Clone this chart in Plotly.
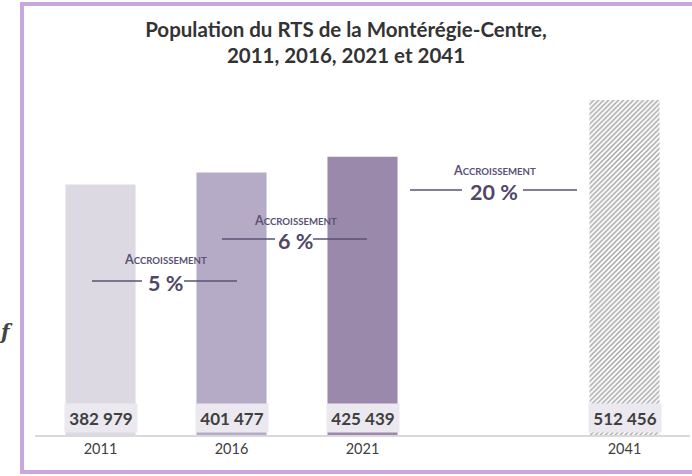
import plotly.graph_objects as go

# Data
annees = ["2011", "2016", "2021", " ", "2041"]
population = [382979, 401477, 425439, None, 512456]
etiquettes = ["382 979", "401 477", "425 439", "", "512 456"]
couleurs = ["#dcd9e3", "#b6abc6", "#9b89ab", "#ffffff", "#ffffff"]
motifs = ["", "", "", "", "/"]
accroissements = ["5 %", "6 %", "20 %"]

# plot area in pixels: x 35..690, y 60..435
L, R, T, B = 35, 2, 60, 41
W, H = 692, 476
pw, ph = W - L - R, H - T - B
ymax = 573600


def px_x(p):
    return (p - L) / pw


def px_y(q):
    return (H - B - q) / ph


fig = go.Figure()
fig.add_trace(go.Bar(
    x=annees,
    y=population,
    marker=dict(
        color=couleurs,
        line=dict(width=0),
        pattern=dict(shape=motifs, fgcolor="#7a64ad", bgcolor="#ffffff",
                     size=3.5, solidity=0.4),
    ),
    width=0.535,
    hoverinfo="skip",
))

# value labels at the foot of each bar
for i, lab in enumerate(etiquettes):
    if lab:
        fig.add_annotation(
            x=i, y=0, xref="x", yref="y", text="<b>" + lab + "</b>",
            showarrow=False, xanchor="center", yanchor="bottom", yshift=2,
            bgcolor="#ebe8f0", width=68, height=24, borderpad=2,
            font=dict(family="Lato", size=17, color="#404040"),
        )

# growth labels: (centre x px, y of "Accroissement", y of line, line segments)
groupes = [
    (165, 259, 281, [(92, 142), (184, 237)]),
    (295, 220, 239, [(222, 275), (313, 367)]),
    (494, 170, 190, [(410, 462), (523, 577)]),
]
petit = "<span style='font-size:12.5px'>A</span>CCROISSEMENT"
for (cx, ya, yl, segs), pct in zip(groupes, accroissements):
    fig.add_annotation(
        x=px_x(cx), y=px_y(ya), xref="paper", yref="paper",
        text="<b>" + petit + "</b>", showarrow=False,
        xanchor="center", yanchor="middle",
        font=dict(family="Lato", size=9.6, color="#5a5275"),
    )
    fig.add_annotation(
        x=px_x(cx), y=px_y(yl + 2), xref="paper", yref="paper",
        text="<b>" + pct + "</b>", showarrow=False,
        xanchor="center", yanchor="middle",
        font=dict(family="Lato", size=21.5, color="#4f4668"),
    )
    for x0, x1 in segs:
        fig.add_shape(type="line", xref="paper", yref="paper",
                      x0=px_x(x0), x1=px_x(x1), y0=px_y(yl), y1=px_y(yl),
                      line=dict(color="#5a5275", width=1.5))

# frame
fig.add_shape(type="rect", xref="paper", yref="paper",
              x0=px_x(22), x1=px_x(705), y0=px_y(472), y1=px_y(4),
              line=dict(color="#c8a8dc", width=4), layer="below")

# small stray glyph left of the frame
fig.add_annotation(x=px_x(5), y=px_y(332), xref="paper", yref="paper",
                   text="<b><i>ƒ</i></b>", showarrow=False,
                   xanchor="center", yanchor="middle",
                   font=dict(family="DejaVu Serif", size=20, color="#444444"))

fig.update_layout(
    width=W, height=H,
    margin=dict(l=L, r=R, t=T, b=B),
    paper_bgcolor="white", plot_bgcolor="white",
    showlegend=False,
    title=dict(
        text="<b>Population du RTS de la Montérégie-Centre,<br>2011, 2016, 2021 et 2041</b>",
        x=0.5, xanchor="center", y=0.923, yanchor="top",
        font=dict(family="Lato", size=20.5, color="#333333"),
    ),
    xaxis=dict(
        showline=True, linecolor="#d9d9d9", linewidth=1.5,
        tickfont=dict(family="Lato", size=14.5, color="#404040"),
        ticks="", showgrid=False, fixedrange=True,
    ),
    yaxis=dict(visible=False, range=[0, ymax], fixedrange=True),
)

# drop the page's default body margin so the figure fills the window
fig.write_html("out.html", config={"displayModeBar": False},
               post_script="document.body.style.margin='0px';")
